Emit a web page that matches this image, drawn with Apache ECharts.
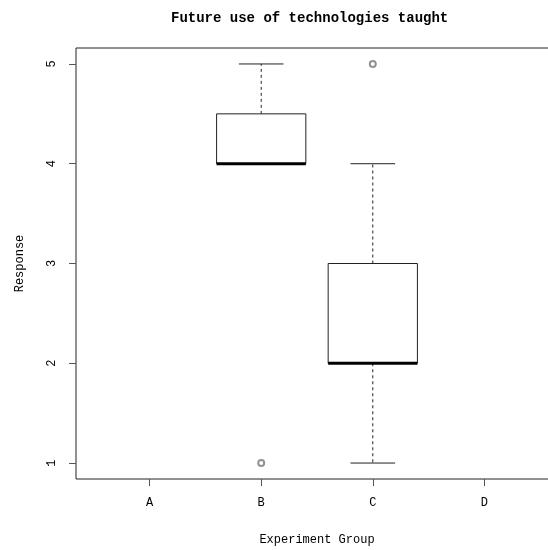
<!DOCTYPE html>
<html>
<head>
<meta charset="utf-8">
<script src="https://cdn.jsdelivr.net/npm/echarts@6/dist/echarts.min.js"></script>
<style>
  html, body { margin: 0; padding: 0; background: #fff; }
  #chart { width: 548px; height: 550px; }
</style>
</head>
<body>
<div id="chart"></div>
<script>
// groups and box stats (null = no data)
const groupNames = ['A', 'B', 'C', 'D'];
const lowerWhisker = [null, 4, 1, null];
const lowerHinge = [null, 4, 2, null];
const medians = [null, 4, 2, null];
const upperHinge = [null, 4.5, 3, null];
const upperWhisker = [null, 5, 4, null];
// outliers
const outlierGroup = ['B', 'C'];
const outlierValue = [1, 5];
const yTicks = [1, 2, 3, 4, 5];

const fontFam = '"Liberation Mono", "DejaVu Sans Mono", monospace';
const ink = '#222';

let boxData = [];
for (let i = 0; i < groupNames.length; i++) {
    if (medians[i] == null) continue;
    boxData.push([i + 1, lowerWhisker[i], lowerHinge[i], medians[i], upperHinge[i], upperWhisker[i]]);
}
let outlierData = outlierGroup.map((g, i) => [groupNames.indexOf(g) + 1, outlierValue[i]]);

function renderBox(params, api) {
    let x = api.value(0);
    let lo = api.coord([x, api.value(1)]);
    let q1 = api.coord([x, api.value(2)]);
    let md = api.coord([x, api.value(3)]);
    let q3 = api.coord([x, api.value(4)]);
    let hi = api.coord([x, api.value(5)]);
    let halfBox = api.size([0.4, 0])[0];
    let halfCap = halfBox / 2;
    let cx = lo[0];
    let solid = { stroke: ink, lineWidth: 1, fill: null };
    let dashed = { stroke: ink, lineWidth: 1, lineDash: [3, 3] };
    return {
        type: 'group',
        children: [
            { type: 'line', shape: { x1: cx, y1: q1[1], x2: cx, y2: lo[1] }, style: dashed },
            { type: 'line', shape: { x1: cx, y1: q3[1], x2: cx, y2: hi[1] }, style: dashed },
            { type: 'line', shape: { x1: cx - halfCap, y1: lo[1], x2: cx + halfCap, y2: lo[1] }, style: solid },
            { type: 'line', shape: { x1: cx - halfCap, y1: hi[1], x2: cx + halfCap, y2: hi[1] }, style: solid },
            { type: 'rect', shape: { x: cx - halfBox, y: q3[1], width: halfBox * 2, height: q1[1] - q3[1] }, style: { stroke: ink, lineWidth: 1, fill: '#fff' } },
            { type: 'line', shape: { x1: cx - halfBox, y1: md[1], x2: cx + halfBox, y2: md[1] }, style: { stroke: '#000', lineWidth: 3 } }
        ]
    };
}

let myChart = echarts.init(document.getElementById('chart'));
let option = {
    backgroundColor: '#fff',
    animation: false,
    title: {
        text: 'Future use of technologies taught',
        left: 166,
        top: 6,
        textStyle: { fontFamily: fontFam, fontSize: 14, fontWeight: 'bold', color: '#000' }
    },
    grid: {
        left: 76,
        top: 48,
        width: 482,
        height: 431,
        outerBoundsMode: 'none',
        containLabel: false,
        show: true,
        borderColor: ink,
        borderWidth: 1,
        backgroundColor: 'transparent'
    },
    xAxis: {
        type: 'value',
        min: 0.34,
        max: 4.66,
        name: 'Experiment Group',
        nameLocation: 'middle',
        nameGap: 55,
        nameTextStyle: { fontFamily: fontFam, fontSize: 12, color: '#000' },
        axisLine: { show: false },
        axisTick: { show: true, length: 7, lineStyle: { color: '#555' }, customValues: [1, 2, 3, 4] },
        axisLabel: {
            margin: 18,
            fontFamily: fontFam, fontSize: 12, color: '#000',
            customValues: [1, 2, 3, 4],
            formatter: v => groupNames[Math.round(v) - 1] || ''
        },
        splitLine: { show: false }
    },
    yAxis: {
        type: 'value',
        min: 0.84,
        max: 5.16,
        name: 'Response',
        nameLocation: 'middle',
        nameGap: 50,
        nameTextStyle: { fontFamily: fontFam, fontSize: 12, color: '#000' },
        axisLine: { show: false },
        axisTick: { show: true, length: 7, lineStyle: { color: '#555' }, customValues: yTicks },
        axisLabel: {
            margin: 18,
            rotate: 90,
            fontFamily: fontFam, fontSize: 12, color: '#000',
            customValues: yTicks
        },
        splitLine: { show: false }
    },
    series: [
        {
            type: 'custom',
            renderItem: renderBox,
            encode: { x: 0, y: [1, 2, 3, 4, 5] },
            data: boxData,
            z: 2
        },
        {
            type: 'scatter',
            symbol: 'emptyCircle',
            symbolSize: 6,
            itemStyle: { color: '#777', borderColor: '#777', borderWidth: 1 },
            data: outlierData,
            z: 3
        }
    ]
};
myChart.setOption(option);
</script>
</body>
</html>
